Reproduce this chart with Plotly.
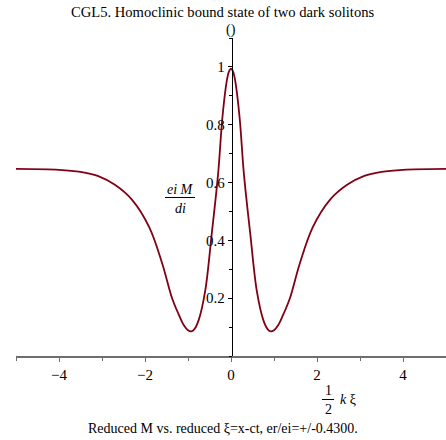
import plotly.graph_objects as go

# reduced coordinate (1/2 k xi), right half; the curve is symmetric
x_half = [0.0, 0.05, 0.1, 0.2, 0.3, 0.45, 0.6, 0.75, 0.85, 0.92, 1.0, 1.1,
          1.22, 1.37, 1.6, 1.9, 2.3, 2.7, 3.1, 3.5, 4.0, 5.0]
m_half = [0.994, 0.983, 0.95, 0.825, 0.63, 0.42, 0.225, 0.125, 0.093, 0.085,
          0.089, 0.107, 0.145, 0.20, 0.32, 0.445, 0.54, 0.592, 0.623, 0.637,
          0.644, 0.647]

x_vals = [-v for v in x_half[:0:-1]] + x_half
m_vals = m_half[:0:-1] + m_half

x_ticks = [-4, -2, 0, 2, 4]
y_ticks = [0.2, 0.4, 0.6, 0.8, 1]

serif = "Liberation Serif, Times New Roman, serif"

# plot area in pixels: x 16..446, y 38..356
def px(x):
    return (x - 16) / 430


def py(y):
    return (356 - y) / 318


fig = go.Figure()
fig.add_trace(go.Scatter(
    x=x_vals, y=m_vals, mode="lines", line_shape="spline",
    line=dict(color="rgb(128,0,22)", width=1.8), showlegend=False,
    hoverinfo="skip",
))

fig.update_layout(
    width=446, height=440,
    margin=dict(l=16, r=0, t=38, b=84),
    paper_bgcolor="white", plot_bgcolor="white",
    font=dict(family=serif, size=14, color="black"),
    xaxis=dict(range=[-5, 5], tickvals=x_ticks,
               ticktext=["\u22124", "\u22122", "0", "2", "4"],
               showgrid=False, zeroline=False, showline=True,
               linecolor="rgb(110,110,110)", linewidth=2,
               ticks="outside", ticklen=4, tickcolor="rgb(110,110,110)",
               minor=dict(dtick=1, tick0=0, ticks="outside", ticklen=3,
                          tickcolor="rgb(110,110,110)"),
               tickfont=dict(family=serif, size=15)),
    yaxis=dict(range=[0, 1.1], tickvals=y_ticks,
               showgrid=False, zeroline=False, showline=True,
               linecolor="black", linewidth=1,
               anchor="free", position=0.5015,
               ticks="outside", ticklen=4, tickcolor="black",
               minor=dict(dtick=0.1, tick0=0, ticks="outside", ticklen=3,
                          tickcolor="black"),
               tickfont=dict(family=serif, size=15)),
)

annots = [
    ("CGL5. Homoclinic bound state of two dark solitons", 223, 12, 14.6),
    ("()", 231, 30, 14),
    ("<i>ei M</i>", 180, 189, 14),
    ("<i>di</i>", 180, 208, 14),
    ("1", 328, 390, 14),
    ("2", 328, 409, 14),
    ("<i>k</i> \u03be", 348, 399, 14),
    ("Reduced M vs. reduced \u03be=x-ct, er/ei=+/-0.4300.", 223, 428, 14),
]
for text, x, y, size in annots:
    fig.add_annotation(text=text, x=px(x), y=py(y),
                       xref="paper", yref="paper", showarrow=False,
                       xanchor="center", yanchor="middle",
                       font=dict(family=serif, size=size, color="black"))
# fraction bars
for x0, x1, yy in [(165, 195, 197.5), (322, 334, 399.5)]:
    fig.add_shape(type="line", xref="paper", yref="paper",
                  x0=px(x0), x1=px(x1), y0=py(yy), y1=py(yy),
                  line=dict(color="black", width=1))

# page body has a default 8px margin; drop it so the figure fills the window
fig.write_html("out.html", config={"displayModeBar": False},
               post_script="document.body.style.margin='0';"
                           "document.body.style.overflow='hidden';")
